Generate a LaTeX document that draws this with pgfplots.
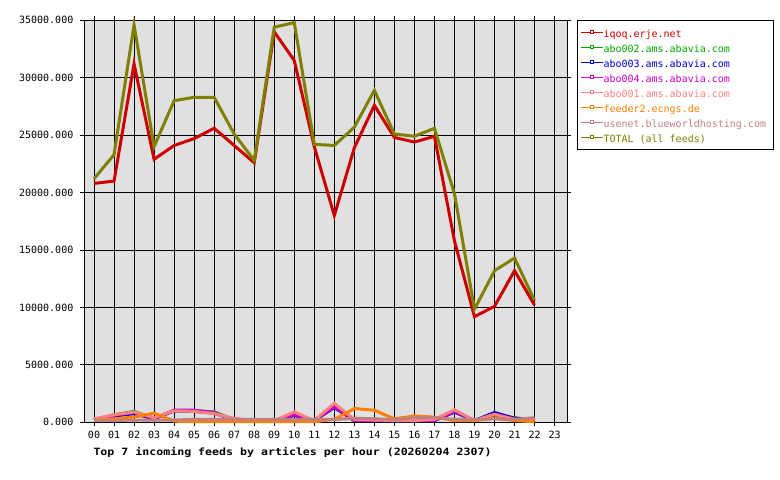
\documentclass[border=0pt]{standalone}
\usepackage{fontspec}
\setmainfont{DejaVu Sans Mono}
\newfontfamily\titlefont[FakeStretch=1.16]{DejaVu Sans Mono}
\usepackage{pgfplots}
\usepackage{pgfplotstable}
\pgfplotsset{compat=1.18}
\definecolor{cred}{RGB}{204,0,0}
\definecolor{cgreen}{RGB}{0,170,0}
\definecolor{cblue}{RGB}{0,0,204}
\definecolor{cmag}{RGB}{204,0,204}
\definecolor{cpink}{RGB}{255,128,128}
\definecolor{corange}{RGB}{255,128,0}
\definecolor{cbrown}{RGB}{192,128,128}
\definecolor{colive}{RGB}{128,128,0}
\definecolor{cbg}{RGB}{224,224,224}
\pgfplotstableread{
h  iqoq  abotwo abothree abofour aboone feeder usenet total
0  20800 250  250  250  300  200  150  21200
1  21000 650  550  600  650  300  150  23300
2  31200 950  750  850  900  450  200  34600
3  22900 350  300  350  400  800  200  24000
4  24100 1000 1000 1050 1000 100  200  28000
5  24700 1000 950  1050 950  50   250  28300
6  25600 900  800  850  750  50   250  28300
7  24100 200  200  200  350  50   250  25100
8  22600 150  150  150  150  50   250  22800
9  34000 150  150  150  150  50   250  34400
10 31500 600  600  650  900  50   250  34800
11 24000 150  150  150  150  50   250  24200
12 18000 1300 1300 1350 1650 250  250  24100
13 23900 150  150  150  250  1200 350  25700
14 27600 150  150  150  200  1050 300  28900
15 24800 150  150  150  150  300  250  25100
16 24400 150  150  150  150  550  400  24900
17 24900 150  150  150  250  450  400  25600
18 15800 900  900  950  1100 150  250  19900
19 9200  150  150  150  150  150  250  9850
20 10100 650  850  700  700  350  300  13200
21 13200 400  350  300  250  150  250  14300
22 10200 200  200  200  250  50   400  10600
}\feeds
\begin{document}
\begin{tikzpicture}
\path[fill=white] (0,0) rectangle (780bp,480bp);
\begin{axis}[
  at={(84bp,57.7bp)}, anchor=south west,
  width=483bp, height=402bp, scale only axis,
  xmin=-0.5, xmax=23.62, ymin=0, ymax=35000,
  axis background/.style={fill=cbg},
  grid=major, grid style={black, line width=1bp},
  axis line style={black, line width=1bp},
  tick align=outside, major tick length=4bp,
  tick style={black, line width=1bp},
  xtick={0,...,23},
  xticklabels={00,01,02,03,04,05,06,07,08,09,10,11,12,13,14,15,16,17,18,19,20,21,22,23},
  ytick={0,5000,...,35000},
  scaled y ticks=false,
  /pgf/number format/assume math mode=true,
  yticklabel style={/pgf/number format/fixed, /pgf/number format/fixed zerofill,
    /pgf/number format/precision=3, /pgf/number format/1000 sep={}},
  tick label style={font=\fontsize{10bp}{12bp}\selectfont},
  xticklabel style={anchor=north, inner sep=0pt, yshift=-4.6bp},
  yticklabel style={anchor=east, inner sep=0pt, xshift=-6.5bp},
  clip=false,
  legend cell align=left,
  legend style={at={(1.0207,1)}, anchor=north west, draw=black, line width=1bp,
    fill=white, font=\fontsize{10bp}{12bp}\selectfont,
    inner xsep=3bp, inner ysep=7bp, row sep=5.5bp, column sep=0bp,
    nodes={inner sep=0pt, text height=9.5bp, text depth=0bp}},
  legend image code/.code={
    \draw[#1, line width=1bp] (0bp,0bp) -- (22bp,0bp);
    \draw[#1, line width=0.8bp, fill=white] (9.5bp,-0.5bp) rectangle (12.5bp,2bp);
  },
  every axis plot/.append style={line width=3bp},
]
\addplot[cred] table[x=h, y=iqoq] {\feeds};
\addlegendentry{\textcolor{cred}{iqoq.erje.net}}
\addplot[cgreen] table[x=h, y=abotwo] {\feeds};
\addlegendentry{\textcolor{cgreen}{abo002.ams.abavia.com}}
\addplot[cblue] table[x=h, y=abothree] {\feeds};
\addlegendentry{\textcolor{cblue}{abo003.ams.abavia.com}}
\addplot[cmag] table[x=h, y=abofour] {\feeds};
\addlegendentry{\textcolor{cmag}{abo004.ams.abavia.com}}
\addplot[cpink] table[x=h, y=aboone] {\feeds};
\addlegendentry{\textcolor{cpink}{abo001.ams.abavia.com}}
\addplot[corange] table[x=h, y=feeder] {\feeds};
\addlegendentry{\textcolor{corange}{feeder2.ecngs.de}}
\addplot[cbrown] table[x=h, y=usenet] {\feeds};
\addlegendentry{\textcolor{cbrown}{usenet.blueworldhosting.com}\hspace*{4.5bp}}
\addplot[colive] table[x=h, y=total] {\feeds};
\addlegendentry{\textcolor{colive}{TOTAL (all feeds)}}
\end{axis}
\node[anchor=base west, inner sep=0pt] at (93.3bp,24.5bp)
  {\titlefont\bfseries\fontsize{10bp}{12bp}\selectfont Top 7 incoming feeds by articles per hour (20260204 2307)};
\end{tikzpicture}
\end{document}
